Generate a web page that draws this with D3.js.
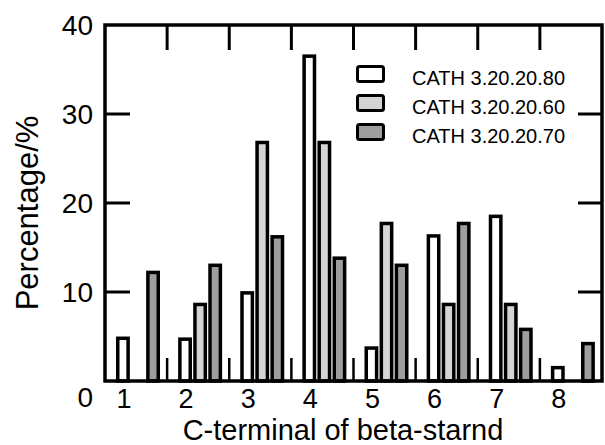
<!DOCTYPE html>
<html>
<head>
<meta charset="utf-8">
<script src="https://cdn.jsdelivr.net/npm/d3@7"></script>
<style>
  body { margin: 0; background: #fff; }
  text { font-family: "Liberation Sans", Arial, sans-serif; fill: #000; }
</style>
</head>
<body>
<div id="vis"></div>
<script>
// values (percent)
const categories = ["1", "2", "3", "4", "5", "6", "7", "8"];
const seriesNames = ["CATH 3.20.20.80", "CATH 3.20.20.60", "CATH 3.20.20.70"];
const cath80 = [4.8, 4.7, 9.9, 36.5, 3.7, 16.3, 18.5, 1.5];
const cath60 = [0, 8.6, 26.8, 26.8, 17.7, 8.6, 8.6, 0];
const cath70 = [12.2, 13.0, 16.2, 13.8, 13.0, 17.7, 5.8, 4.2];
const yTicks = [0, 10, 20, 30, 40];

const width = 605, height = 445;
const fills = ["#ffffff", "#d4d4d4", "#9e9e9e"];
const plot = { left: 105, right: 602, top: 25, bottom: 381 };

const svg = d3.select("#vis").append("svg")
  .attr("width", width)
  .attr("height", height);

const x = d3.scaleBand().domain(categories).range([plot.left, plot.right]).padding(0);
const inner = d3.scaleBand().domain([0, 1, 2]).range([11, 55]).paddingInner(0.08);
const y = d3.scaleLinear().domain([0, 40]).range([plot.bottom, plot.top]);

const series = [cath80, cath60, cath70];
const rows = [];
series.forEach(function (vals, s) {
  vals.forEach(function (v, i) {
    if (v > 0) rows.push({ cat: categories[i], s: s, v: v });
  });
});

// bars
svg.append("g").selectAll("rect")
  .data(rows)
  .enter().append("rect")
  .attr("x", d => x(d.cat) + inner(d.s) + 1.75)
  .attr("y", d => y(d.v))
  .attr("width", inner.bandwidth() - 3.5)
  .attr("height", d => y(0) - y(d.v))
  .attr("fill", d => fills[d.s])
  .attr("stroke", "#000")
  .attr("stroke-width", 3.5);

// category boundary ticks (top and bottom)
const bounds = categories.slice(1).map(c => x(c));
svg.append("g").selectAll("line")
  .data(bounds)
  .enter().append("line")
  .attr("x1", d => d).attr("x2", d => d)
  .attr("y1", plot.top).attr("y2", plot.top + 25)
  .attr("stroke", "#000").attr("stroke-width", 3);
svg.append("g").selectAll("line")
  .data(bounds)
  .enter().append("line")
  .attr("x1", d => d).attr("x2", d => d)
  .attr("y1", plot.bottom).attr("y2", plot.bottom - 23)
  .attr("stroke", "#000").attr("stroke-width", 2.5);

// y ticks left and right
const inTicks = yTicks.filter(t => t > 0 && t < 40);
svg.append("g").selectAll("line")
  .data(inTicks)
  .enter().append("line")
  .attr("x1", plot.left).attr("x2", plot.left + 25)
  .attr("y1", d => y(d)).attr("y2", d => y(d))
  .attr("stroke", "#000").attr("stroke-width", 3);
svg.append("g").selectAll("line")
  .data(inTicks)
  .enter().append("line")
  .attr("x1", plot.right).attr("x2", plot.right - 24)
  .attr("y1", d => y(d)).attr("y2", d => y(d))
  .attr("stroke", "#000").attr("stroke-width", 3);

// frame
svg.append("rect")
  .attr("x", plot.left).attr("y", plot.top)
  .attr("width", plot.right - plot.left).attr("height", plot.bottom - plot.top)
  .attr("fill", "none").attr("stroke", "#000").attr("stroke-width", 3.5);

// y tick labels
svg.append("g").selectAll("text")
  .data(yTicks)
  .enter().append("text")
  .attr("x", 93)
  .attr("y", d => y(d) + (d === 0 ? 26 : 10))
  .attr("text-anchor", "end")
  .style("font-size", "28px")
  .text(d => d);

// x tick labels
svg.append("g").selectAll("text")
  .data(categories)
  .enter().append("text")
  .attr("x", d => x(d) + 19)
  .attr("y", 408)
  .attr("text-anchor", "middle")
  .style("font-size", "27px")
  .text(d => d);

// axis titles
svg.append("text")
  .attr("x", 343).attr("y", 440)
  .attr("text-anchor", "middle")
  .style("font-size", "29px")
  .text("C-terminal of beta-starnd");

svg.append("text")
  .attr("transform", "translate(38,213) rotate(-90)")
  .attr("text-anchor", "middle")
  .style("font-size", "31px")
  .text("Percentage/%");

// legend
const legend = svg.append("g").selectAll("g")
  .data(seriesNames)
  .enter().append("g")
  .attr("transform", (d, i) => "translate(356," + (85 + i * 29) + ")");
legend.append("rect")
  .attr("x", 1.5).attr("y", -18.5)
  .attr("width", 26).attr("height", 15)
  .attr("rx", 2)
  .attr("fill", (d, i) => fills[i])
  .attr("stroke", "#000").attr("stroke-width", 3);
legend.append("text")
  .attr("x", 56).attr("y", 0)
  .style("font-size", "20px")
  .text(d => d);
</script>
</body>
</html>
